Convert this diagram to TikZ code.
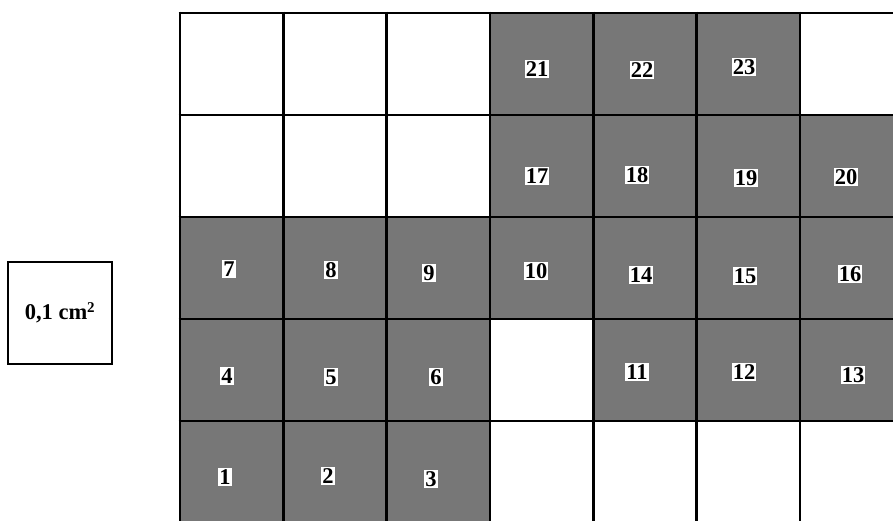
\documentclass[tikz,border=0pt]{standalone}
\usepackage{fontspec}
\setmainfont{Liberation Serif}
\definecolor{cellgray}{RGB}{119,119,119}
\tikzset{
  gridline/.style={line width=2.8pt, black},
  grayfill/.style={fill=cellgray},
  numlabel/.style={fill=white, inner sep=1.2pt, font=\fontsize{22.5}{22.5}\selectfont\bfseries},
  unitbox/.style={draw, line width=2.2pt, minimum width=104pt, minimum height=102pt, inner sep=0pt, font=\fontsize{22.5}{22.5}\selectfont\bfseries}
}
\begin{document}
\begin{tikzpicture}[x=1pt,y=-1pt]
\useasboundingbox (0,0) rectangle (893,520);
\begin{scope}
\clip (0,0) rectangle (893,520);
% gray cells: {col/row}
\foreach \c/\r in {3/0,4/0,5/0, 3/1,4/1,5/1,6/1, 0/2,1/2,2/2,3/2,4/2,5/2,6/2, 0/3,1/3,2/3,4/3,5/3,6/3, 0/4,1/4,2/4}{
  \fill[grayfill] ({180+103.33*\c},{13+102*\r}) rectangle ({180+103.33*(\c+1)},{13+102*(\r+1)});
}
\foreach \c in {0,...,7}{
  \draw[gridline] ({180+103.33*\c},{13-1.4}) -- ({180+103.33*\c},530);
}
\foreach \r in {0,...,5}{
  \draw[gridline] ({180-1.4},{13+102*\r}) -- (910,{13+102*\r});
}
\end{scope}
\node[unitbox] (unit) at (60,313) {0,1 cm\textsuperscript{\fontsize{15}{15}\selectfont 2}};
% labels
\node[numlabel] (l21) at (537,69) {21};
\node[numlabel] (l22) at (642,70) {22};
\node[numlabel] (l23) at (744,67) {23};
\node[numlabel] (l17) at (537,176) {17};
\node[numlabel] (l18) at (637,175) {18};
\node[numlabel] (l19) at (746,178) {19};
\node[numlabel] (l20) at (846,177) {20};
\node[numlabel] (l7) at (229,269) {7};
\node[numlabel] (l8) at (331,270) {8};
\node[numlabel] (l9) at (429,273) {9};
\node[numlabel] (l10) at (536,271) {10};
\node[numlabel] (l14) at (641,275) {14};
\node[numlabel] (l15) at (745,276) {15};
\node[numlabel] (l16) at (850,274) {16};
\node[numlabel] (l4) at (227,376) {4};
\node[numlabel] (l5) at (331,377) {5};
\node[numlabel] (l6) at (436,377) {6};
\node[numlabel] (l11) at (637,372) {11};
\node[numlabel] (l12) at (744,372) {12};
\node[numlabel] (l13) at (853,375) {13};
\node[numlabel] (l1) at (225,477) {1};
\node[numlabel] (l2) at (328,476) {2};
\node[numlabel] (l3) at (431,479) {3};
\end{tikzpicture}
\end{document}
